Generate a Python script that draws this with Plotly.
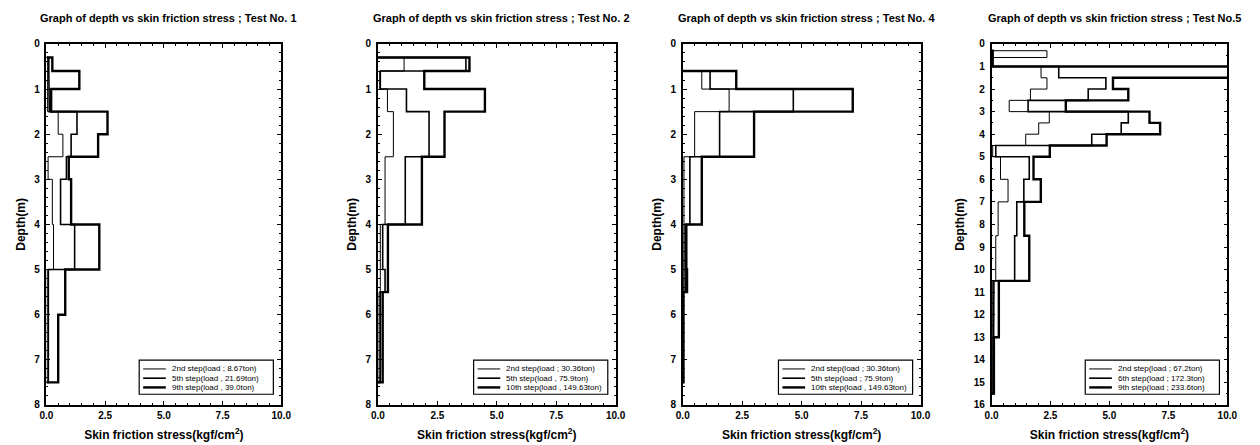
import plotly.graph_objects as go

# ---------------- data ----------------
# Test No. 1
t1_breaks = [0.3, 0.6, 1.0, 1.5, 2.0, 2.5, 3.0, 4.0, 5.0, 6.0, 7.5]
t1_s2 = [0.05, 0.05, 0.05, 0.5, 0.7, 0.07, 0.25, 0.3, 0.03, 0.03]
t1_s5 = [0.1, 0.1, 0.12, 1.3, 1.05, 0.85, 0.6, 1.2, 0.08, 0.08]
t1_s9 = [0.25, 1.4, 0.2, 2.6, 2.2, 0.95, 1.05, 2.25, 0.8, 0.5]
t1_names = ["2nd step(load ; 8.67ton)", "5th step(load , 21.69ton)", "9th step(load , 39.0ton)"]

# Test No. 2
t2_breaks = [0.3, 0.6, 1.0, 1.5, 2.5, 4.0, 5.0, 5.5, 7.5]
t2_s2 = [1.1, 0.08, 0.4, 0.65, 0.3, 0.1, 0.1, 0.05]
t2_s5 = [3.7, 0.1, 1.2, 2.15, 1.15, 0.2, 0.3, 0.1]
t2_s10 = [3.85, 1.95, 4.5, 2.8, 1.85, 0.42, 0.42, 0.2]
t2_names = ["2nd step(load ; 30.36ton)", "5th step(load , 75.9ton)", "10th step(load , 149.63ton)"]

# Test No. 4
t4_breaks = [0.6, 1.0, 1.5, 2.5, 4.0, 5.0, 5.5, 7.5]
t4_s2 = [0.8, 1.95, 0.5, 0.05, 0.05, 0.05, 0.02]
t4_s5 = [1.15, 4.65, 1.55, 0.3, 0.1, 0.1, 0.02]
t4_s10 = [2.25, 7.15, 3.0, 0.8, 0.15, 0.18, 0.03]
t4_names = ["2nd step(load ; 30.36ton)", "5th step(load ; 75.9ton)", "10th step(load , 149.63ton)"]

# Test No. 5
t5_breaks = [0.3, 0.6, 1.0, 1.5, 2.0, 2.5, 3.0, 3.5, 4.0, 4.5, 5.0, 6.0, 7.0, 8.5, 10.5, 13.0, 15.5]
t5_s2 = [2.35, 0.02, 2.1, 2.35, 1.65, 0.75, 2.45, 2.0, 1.45, 0.05, 0.38, 0.7, 0.28, 0.18, 0.05, 0.05]
t5_s6 = [0.03, 0.03, 2.85, 4.85, 4.1, 1.55, 5.8, 5.5, 4.25, 0.18, 1.6, 1.37, 1.07, 0.98, 0.1, 0.08]
t5_s9 = [0.05, 0.05, 12.0, 5.15, 5.8, 3.15, 6.7, 7.15, 4.88, 2.47, 1.78, 2.09, 1.39, 1.6, 0.31, 0.1]
t5_names = ["2nd step(load ; 67.2ton)", "6th step(load ; 172.3ton)", "9th step(load ; 233.6ton)"]

titles = ["Graph of depth vs skin friction stress ; Test No. 1",
          "Graph of depth vs skin friction stress ; Test No. 2",
          "Graph of depth vs skin friction stress ; Test No. 4",
          "Graph of depth vs skin friction stress ; Test No.5"]
depth_max = [8, 8, 8, 16]
x_ticks = [0, 2.5, 5, 7.5, 10]
x_ticktext = ["0.0", "2.5", "5.0", "7.5", "10.0"]

# ---------------- helpers ----------------
def step_profile(breaks, vals):
    xs, ys = [0], [breaks[0]]
    for i, v in enumerate(vals):
        xs += [v, v]
        ys += [breaks[i], breaks[i + 1]]
    xs.append(0)
    ys.append(breaks[-1])
    return xs, ys

W, H = 1260, 445
panels = [
    (t1_breaks, [t1_s2, t1_s5, t1_s9], t1_names, (40, 278)),
    (t2_breaks, [t2_s2, t2_s5, t2_s10], t2_names, (376, 617)),
    (t4_breaks, [t4_s2, t4_s5, t4_s10], t4_names, (685, 926)),
    (t5_breaks, [t5_s2, t5_s6, t5_s9], t5_names, (998, 1237)),
]
widths = [1.0, 1.6, 2.4]
y_top, y_bot = 39, 410
ydom = [(H - y_bot) / H, (H - y_top) / H]

def px(x):
    return x / W

def py(y):
    return (H - y) / H

fig = go.Figure()
FAM = "Liberation Sans, Arial, sans-serif"
bold = dict(family=FAM, weight="bold", color="black")
annotations = []
shapes = []
for k, (brk, series, names, (px0, px1)) in enumerate(panels):
    n = k + 1
    sfx = "" if n == 1 else str(n)
    for s, nm, w in zip(series, names, widths):
        xs, ys = step_profile(brk, s)
        fig.add_trace(go.Scatter(x=xs, y=ys, mode="lines", name=nm, showlegend=False,
                                 line=dict(color="black", width=w),
                                 xaxis="x" + sfx, yaxis="y" + sfx))
    fig.layout["xaxis" + sfx] = dict(
        domain=[px(px0), px(px1)], anchor="y" + sfx, range=[0, 10], tickvals=x_ticks,
        ticktext=x_ticktext, ticks="inside", ticklen=4,
        tickcolor="black", showline=True, linecolor="black", linewidth=1.5, mirror="ticks",
        showgrid=False, zeroline=False, tickfont=dict(bold, size=10),
        minor=dict(dtick=0.5, ticks="inside", ticklen=2, tickcolor="black"),
        title=dict(text="Skin friction stress(kgf/cm<sup>2</sup>)", font=dict(bold, size=12), standoff=11))
    dm = depth_max[k]
    fig.layout["yaxis" + sfx] = dict(
        domain=ydom, anchor="x" + sfx, range=[dm, 0], dtick=1, ticks="inside", ticklen=4,
        tickcolor="black", showline=True, linecolor="black", linewidth=1.5, mirror="ticks",
        showgrid=False, zeroline=False, tickfont=dict(bold, size=10), ticklabelstandoff=3,
        minor=dict(dtick=0.2 if dm == 8 else 0.5, ticks="inside", ticklen=2, tickcolor="black"),
        title=dict(text="Depth(m)", font=dict(bold, size=12), standoff=6))
    annotations.append(dict(text=titles[k], x=px((px0 + px1) / 2 + 5), y=py(12),
                            xref="paper", yref="paper", showarrow=False,
                            xanchor="center", yanchor="middle", font=dict(bold, size=11)))
    # legend box (drawn inside the plot, bottom right)
    bx1 = px1 - 8
    bx0 = bx1 - 136
    by0, by1 = 364, 399
    shapes.append(dict(type="rect", xref="paper", yref="paper", x0=px(bx0), x1=px(bx1),
                       y0=py(by1), y1=py(by0), line=dict(color="black", width=1.2),
                       fillcolor="white", layer="above"))
    for j, (nm, w) in enumerate(zip(names, widths)):
        ry = 373 + 9.5 * j
        shapes.append(dict(type="line", xref="paper", yref="paper", x0=px(bx0 + 4), x1=px(bx0 + 27),
                           y0=py(ry), y1=py(ry), line=dict(color="black", width=w), layer="above"))
        annotations.append(dict(text=nm, x=px(bx0 + 31), y=py(ry), xref="paper", yref="paper",
                                showarrow=False, xanchor="left", yanchor="middle",
                                font=dict(family=FAM, size=8, color="black")))

fig.update_layout(width=W, height=H, margin=dict(l=0, r=0, t=0, b=0),
                  paper_bgcolor="white", plot_bgcolor="white",
                  annotations=annotations, shapes=shapes, showlegend=False)
fig.write_html("out.html")
